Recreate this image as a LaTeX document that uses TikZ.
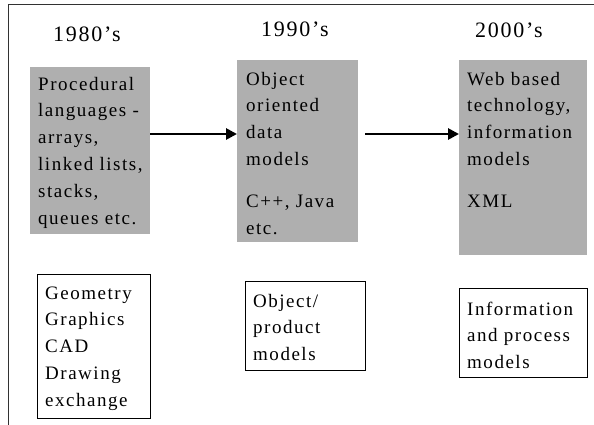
\documentclass[tikz,border=0pt]{standalone}
\usepackage{fontspec}
\setmainfont{Liberation Serif}
\newfontfamily\boxfont[LetterSpace=8]{Liberation Serif}
\usetikzlibrary{arrows.meta,calc}

\definecolor{boxgray}{RGB}{175,175,175}
\definecolor{framegray}{RGB}{50,50,50}

% first-line strut: 0.7 x 26.8pt = 18.76pt above the first baseline
\newcommand{\firstline}{\rule{0pt}{18.76pt}}

\tikzset{
  graybox/.style={fill=boxgray, draw=none, inner sep=0pt, anchor=north west},
  whitebox/.style={fill=white, draw=black, line width=1.3pt, inner sep=0pt, anchor=north west},
  boxtext/.style={anchor=north west, inner sep=0pt, align=left,
    font=\boxfont\fontsize{19}{26.8}\selectfont},
  yeartext/.style={anchor=base west, inner sep=0pt,
    font=\boxfont\fontsize{22}{26}\selectfont},
  era/.style={-{Triangle[length=11pt,width=11pt]}, line width=2.8pt, black},
  framing/.style={draw=framegray, line width=1.8pt}
}

\begin{document}
\begin{tikzpicture}[x=1pt, y=-1pt]
  \useasboundingbox (0,0) rectangle (594,425);

  % page frame: top and left rules only
  \draw[framing] (8.5,425) -- (8.5,4.5) -- (594,4.5);

  % decade headings
  \node[yeartext] (y80) at (53,42) {1980’s};
  \node[yeartext] (y90) at (261,37) {1990’s};
  \node[yeartext] (y00) at (475,38) {2000’s};

  % technology boxes
  \node[graybox, minimum width=120pt, minimum height=167pt] (g1) at (30,67) {};
  \node[graybox, minimum width=121pt, minimum height=182pt] (g2) at (237,60) {};
  \node[graybox, minimum width=128pt, minimum height=195pt] (g3) at (459,60) {};

  % text nodes: position = first baseline minus 18.76pt
  \node[boxtext] (t1) at (38,71.2) {\firstline Procedural\\languages -\\arrays,\\linked lists,\\stacks,\\queues etc.};
  \node[boxtext] (t2) at (246,66.2) {\firstline Object\\oriented\\data\\models\\[15pt]C++, Java\\etc.};
  \node[boxtext] (t3) at (467,66.2) {\firstline Web based\\technology,\\information\\models\\[15pt]XML};

  % model boxes
  \node[whitebox, minimum width=113pt, minimum height=144pt] (w1) at (37,274) {};
  \node[whitebox, minimum width=120pt, minimum height=89pt] (w2) at (245,281) {};
  \node[whitebox, minimum width=128pt, minimum height=89pt] (w3) at (459,288) {};

  \node[boxtext] (u1) at (45,280.2) {\firstline Geometry\\Graphics\\CAD\\Drawing\\exchange};
  \node[boxtext] (u2) at (253,288.2) {\firstline Object/\\product\\models};
  \node[boxtext] (u3) at (467,296.2) {\firstline Information\\and process\\models};

  % progression arrows
  \coordinate (lvl) at (0,134);
  \draw[era] (g1.east |- lvl) -- (g2.west |- lvl);
  \draw[era, shorten <=7pt] (g2.east |- lvl) -- (g3.west |- lvl);
\end{tikzpicture}
\end{document}
